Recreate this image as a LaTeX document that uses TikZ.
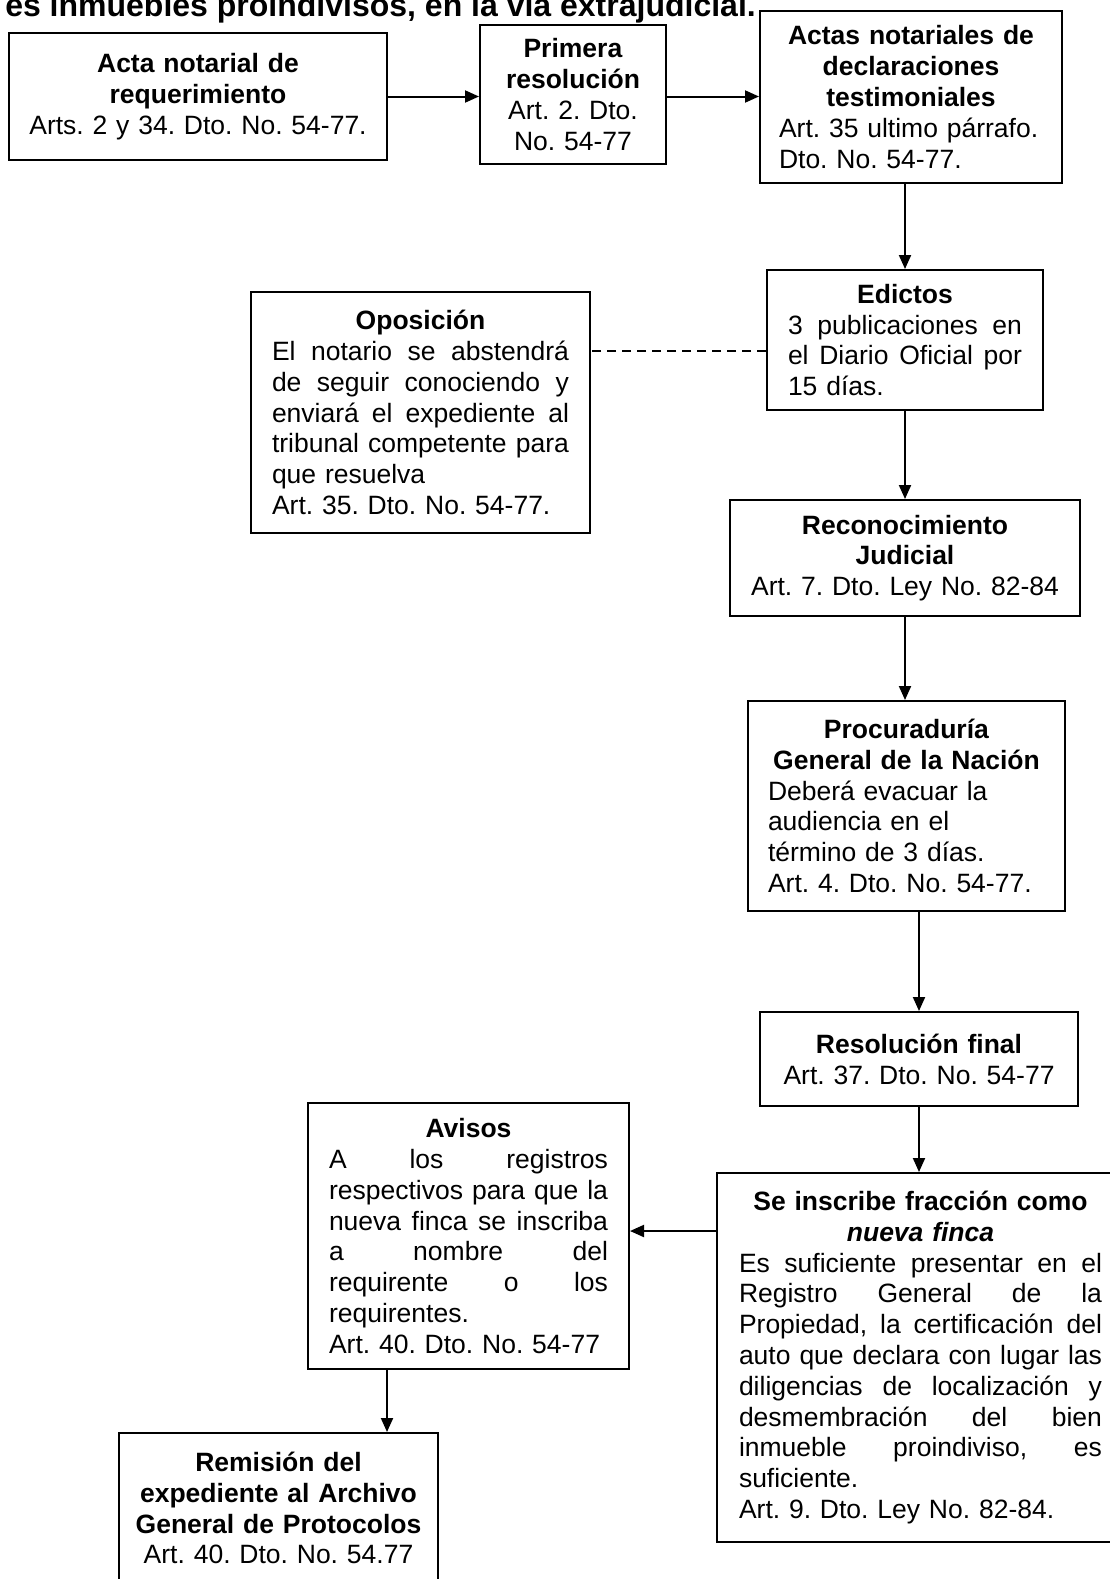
\documentclass[tikz,border=0pt]{standalone}
\usepackage{fontspec}
\setmainfont{Liberation Sans}
\usetikzlibrary{arrows.meta}
\frenchspacing
\newlength{\anchoTexto}
\newcommand{\jlinea}[1]{{\spaceskip=0.278em plus 1fil\relax\makebox[\anchoTexto][s]{#1}}}
\newcommand{\ilinea}[1]{\makebox[\anchoTexto][l]{#1}}

\begin{document}
\begin{tikzpicture}[x=1pt, y=-1pt,
  paso/.style={draw, line width=2pt, anchor=north west, align=center,
    inner xsep=21pt, inner ysep=0pt, font=\fontsize{26.5pt}{30.8pt}\selectfont},
  ancho/.style={text width=#1, execute at begin node={\setlength{\anchoTexto}{#1}}},
  flecha/.style={line width=2pt, -{Triangle[length=14pt,width=12pt]}},
  enlace/.style={line width=1.6pt, dash pattern=on 9pt off 6pt}]
  \useasboundingbox (0,0) rectangle (1109,1579);

  % Titulo (cortado arriba)
  \node[anchor=base east, inner sep=0pt, font=\bfseries\fontsize{32pt}{36pt}\selectfont]
    (titulo) at (756,17) {es inmuebles proindivisos, en la vía extrajudicial.};

  % Fila superior
  \node[paso, ancho=350pt, inner xsep=14pt, minimum height=127pt] (acta) at (8,32)
    {\textbf{Acta notarial de}\\\textbf{requerimiento}\\Arts. 2 y 34. Dto. No. 54-77.};
  \node[paso, ancho=150pt, inner xsep=18pt, minimum height=139pt] (primera) at (479,24)
    {\textbf{Primera}\\\textbf{resolución}\\Art. 2. Dto.\\No. 54-77};
  \node[paso, ancho=264pt, inner xsep=19pt, minimum height=172pt] (actas) at (759,10)
    {\textbf{Actas notariales de}\\\textbf{declaraciones}\\\textbf{testimoniales}\\
     \ilinea{Art. 35 ultimo párrafo.}\\\ilinea{Dto. No. 54-77.}};

  % Columna derecha
  \node[paso, ancho=234pt, minimum height=140pt] (edictos) at (766,269)
    {\textbf{Edictos}\\\jlinea{3 publicaciones en}\\\jlinea{el Diario Oficial por}\\
     \ilinea{15 días.}};
  \node[paso, ancho=297pt, minimum height=241pt] (opos) at (250,291)
    {\textbf{Oposición}\\\jlinea{El notario se abstendrá}\\\jlinea{de seguir conociendo y}\\
     \jlinea{enviará el expediente al}\\\jlinea{tribunal competente para}\\
     \ilinea{que resuelva}\\\ilinea{Art. 35. Dto. No. 54-77.}};
  \node[paso, ancho=314pt, inner xsep=18pt, minimum height=116pt] (recon) at (729,499)
    {\textbf{Reconocimiento}\\\textbf{Judicial}\\Art. 7. Dto. Ley No. 82-84};
  \node[paso, ancho=277pt, inner xsep=20pt, minimum height=210pt] (procur) at (747,700)
    {\textbf{Procuraduría}\\\textbf{General de la Nación}\\\ilinea{Deberá evacuar la}\\
     \ilinea{audiencia en el}\\\ilinea{término de 3 días.}\\\ilinea{Art. 4. Dto. No. 54-77.}};
  \node[paso, ancho=276pt, minimum height=94pt] (resol) at (759,1011)
    {\textbf{Resolución final}\\Art. 37. Dto. No. 54-77};
  \node[paso, ancho=363pt, inner xsep=22pt, minimum height=369pt] (inscribe) at (716,1172)
    {\textbf{Se inscribe fracción como}\\\textbf{\textit{nueva finca}}\\
     \jlinea{Es suficiente presentar en el}\\\jlinea{Registro General de la}\\
     \jlinea{Propiedad, la certificación del}\\\jlinea{auto que declara con lugar las}\\
     \jlinea{diligencias de localización y}\\\jlinea{desmembración del bien}\\
     \jlinea{inmueble proindiviso, es}\\\ilinea{suficiente.}\\\ilinea{Art. 9. Dto. Ley No. 82-84.}};

  % Parte inferior izquierda
  \node[paso, ancho=279pt, minimum height=266pt] (avisos) at (307,1102)
    {\textbf{Avisos}\\\jlinea{A los registros}\\\jlinea{respectivos para que la}\\
     \jlinea{nueva finca se inscriba}\\\jlinea{a nombre del}\\\jlinea{requirente o los}\\
     \ilinea{requirentes.}\\\ilinea{Art. 40. Dto. No. 54-77}};
  \node[paso, ancho=295pt, inner xsep=12pt, minimum height=150pt] (remision) at (118,1432)
    {\textbf{Remisión del}\\\textbf{expediente al Archivo}\\\textbf{General de Protocolos}\\
     Art. 40. Dto. No. 54.77};
  \coordinate (bajada) at ([xshift=-52pt]remision.north east);

  % Flechas
  \draw[flecha] (acta.east) -- (acta.east -| primera.west);
  \draw[flecha] (primera.east |- acta.east) -- (acta.east -| actas.west);
  \draw[flecha] (edictos.north |- actas.south) -- (edictos.north);
  \draw[flecha] (edictos.south) -- (edictos.south |- recon.north);
  \draw[flecha] (recon.south) -- (recon.south |- procur.north);
  \draw[flecha] (resol.north |- procur.south) -- (resol.north);
  \draw[flecha] (resol.south) -- (resol.south |- inscribe.north);
  \draw[flecha] ([yshift=5pt]inscribe.west |- avisos.east) -- ([yshift=5pt]avisos.east);
  \draw[flecha] (avisos.south -| bajada) -- (bajada);
  \draw[enlace] ([yshift=-11pt]edictos.west) -- ([yshift=-11pt]edictos.west -| opos.east);
\end{tikzpicture}
\end{document}
